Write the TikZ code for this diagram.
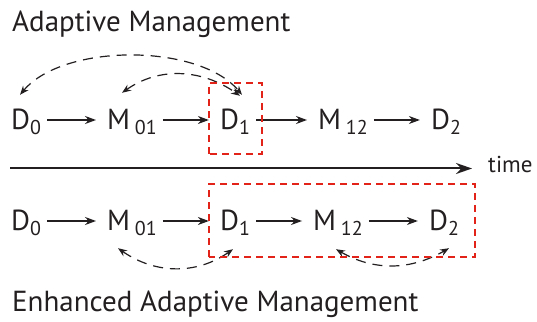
\documentclass[tikz,border=0pt]{standalone}
\usepackage{fontspec}
\setmainfont{PT Sans}
\usetikzlibrary{arrows.meta}

\definecolor{ink}{HTML}{231F20}
\definecolor{focusred}{HTML}{E2231A}

% lowered index as set in the figure
\newcommand{\subidx}[1]{\raisebox{-5pt}{\fontsize{20}{20}\selectfont #1}}

\begin{document}
\begin{tikzpicture}[
    x=1pt, y=1pt,
    every node/.style={font=\fontsize{29}{32}\selectfont, text=ink, inner sep=0pt},
    state/.style={text height=20pt, text depth=0pt},
    flow/.style={-{Stealth[length=11pt,width=8pt]}, line width=1.4pt, draw=ink,
                 shorten <=6pt, shorten >=11pt},
    feedback/.style={{Stealth[length=9pt,width=7pt]}-{Stealth[length=9pt,width=7pt]},
                     line width=1.2pt, draw=ink, dash pattern=on 10pt off 7pt},
    focus/.style={draw=focusred, line width=2.4pt, dash pattern=on 7pt off 5pt}
]

\useasboundingbox (0,0) rectangle (537,321);

% Titles
\node[anchor=base west] (titleA) at (12,289) {Adaptive Management};
\node[anchor=base west] (titleE) at (12,10) {Enhanced Adaptive Management};

% Adaptive management (top row)
\node[state] (aD0)  at (26,201)  {D\subidx{0}};
\node[state] (aM01) at (132,201) {M\,\subidx{01}};
\node[state] (aD1)  at (235,201) {D\subidx{1}};
\node[state] (aM12) at (343,201) {M\,\subidx{12}};
\node[state] (aD2)  at (446,201) {D\subidx{2}};

\draw[flow] (aD0) -- (aM01);
\draw[flow] (aM01) -- (aD1);
\draw[flow] (aD1) -- (aM12);
\draw[flow] (aM12) -- (aD2);

% feedback from the new decision
\draw[feedback] ([shift={(-6,15)}]aD0.north) to[out=50,in=130,looseness=0.78] ([shift={(7,15)}]aD1.north);
\draw[feedback] ([shift={(-10,17)}]aM01.north) to[out=35,in=145] ([shift={(5,14)}]aD1.north);

\draw[focus] (209,167) rectangle (262,238);

% Time axis
\coordinate (t0) at (10,152.5);
\node[anchor=base west, font=\fontsize{23}{26}\selectfont] (time) at (488,148) {time};
\draw[-{Stealth[length=16pt,width=11pt]}, line width=2pt, draw=ink, shorten >=16pt] (t0) -- (time.west |- t0);

% Enhanced adaptive management (bottom row)
\node[state] (bD0)  at (26,100)  {D\subidx{0}};
\node[state] (bM01) at (132,100) {M\,\subidx{01}};
\node[state] (bD1)  at (235,100) {D\subidx{1}};
\node[state] (bM12) at (338,100) {M\,\subidx{12}};
\node[state] (bD2)  at (444,100) {D\subidx{2}};

\draw[flow] (bD0) -- (bM01);
\draw[flow] (bM01) -- (bD1);
\draw[flow] (bD1) -- (bM12);
\draw[flow] (bM12) -- (bD2);

\draw[feedback] ([shift={(-14,-17)}]bM01.south) to[out=-35,in=-145] ([shift={(-2,-18)}]bD1.south);
\draw[feedback] ([shift={(-2,-18)}]bM12.south) to[out=-30,in=-150] ([shift={(5,-17)}]bD2.south);

\draw[focus] (209,64) rectangle (475,137);

\end{tikzpicture}
\end{document}
